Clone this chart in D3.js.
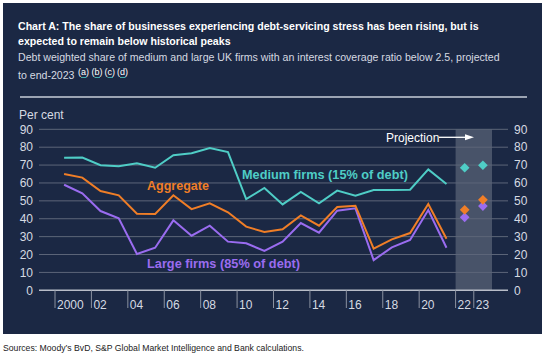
<!DOCTYPE html>
<html><head><meta charset="utf-8">
<script src="https://cdn.jsdelivr.net/npm/d3@7"></script>
<style>
html,body{margin:0;padding:0;background:#fff;}
svg{display:block;font-family:"Liberation Sans",Arial,sans-serif;}
</style></head>
<body>
<svg id="c" width="550" height="355"></svg>
<script>
const years = d3.range(2000, 2022);
const projYears = [2022, 2023];
const allYears = d3.range(2000, 2024);
const medium = [74.1,74.2,69.9,69.3,71,68.5,75.5,76.6,79.5,77.3,51,57.2,48,55,48.6,55.7,52.9,56,56,56.2,67.6,59.4];
const aggregate = [65,63,55.5,53.1,42.8,42.7,53.1,45.4,48.6,43.6,35.6,32.6,34.1,41.9,36.1,46.6,47.3,23.3,28.5,32,48.2,28.8];
const large = [59,54.2,44.3,40.2,20.3,23.8,39.1,30.5,36.1,27.2,26.3,22,27.2,37.6,32.2,44.5,45.8,16.9,24,28.1,44.9,23.8];
const mediumProj = [68.5,69.9];
const aggregateProj = [45,50.6];
const largeProj = [40.8,47.1];
const yTicks = [0,10,20,30,40,50,60,70,80,90];
const xTickYears = [2000,2002,2004,2006,2008,2010,2012,2014,2016,2018,2020,2022,2023];
const xTickLabels = ["2000","02","04","06","08","10","12","14","16","18","20","22","23"];
const footnotes = ["(a)","(b)","(c)","(d)"];

const svg = d3.select("#c");
const C = {bg:"#1b2844", teal:"#4fcdc6", orange:"#f07e27", purple:"#9a6cf0", text:"#d6dae2", grid:"#5d6679"};

// scale a text's font size so its width matches a target width
function fit(sel, target){
  const fs = parseFloat(sel.attr("font-size"));
  const w = sel.node().getComputedTextLength();
  if (w > 0) sel.attr("font-size", (fs*target/w).toFixed(2));
  return sel;
}

svg.append("rect").attr("x",3).attr("y",3).attr("width",539).attr("height",331).attr("fill",C.bg);

// titles
const t1 = svg.append("text").attr("x",18).attr("y",30).attr("font-weight","bold").attr("font-size",12).attr("fill","#fff")
  .text("Chart A: The share of businesses experiencing debt-servicing stress has been rising, but is");
fit(t1, 461);
svg.append("text").attr("x",18).attr("y",44.5).attr("font-weight","bold").attr("font-size",t1.attr("font-size")).attr("fill","#fff")
  .text("expected to remain below historical peaks");
const s1 = svg.append("text").attr("x",18).attr("y",61).attr("fill",C.text).attr("font-size",11)
  .text("Debt weighted share of medium and large UK firms with an interest coverage ratio below 2.5, projected");
fit(s1, 482);
svg.append("text").attr("x",18).attr("y",79).attr("fill",C.text).attr("font-size",s1.attr("font-size")).text("to end-2023");
// footnote markers
const fx = [78, 91.5, 104.5, 117];
svg.append("g").selectAll("text").data(footnotes).join("text")
  .attr("x",(d,i)=>fx[i]).attr("y",75).attr("font-size",9).attr("fill","#ffffff").text(d=>d);
svg.append("g").selectAll("line").data(footnotes).join("line")
  .attr("x1",(d,i)=>fx[i]+3).attr("x2",(d,i)=>fx[i]+8.5).attr("y1",77.5).attr("y2",77.5)
  .attr("stroke",C.teal).attr("stroke-width",0.8);

svg.append("line").attr("x1",20).attr("x2",527).attr("y1",97).attr("y2",97)
  .attr("stroke","#c9ced8").attr("stroke-width",1.3);

const x = d3.scaleBand().domain(allYears).range([55,492]);
const y = d3.scaleLinear().domain([0,90]).range([290.3,129.3]);
const xc = d => x(d) + x.bandwidth()/2;

// projection band
svg.append("rect").attr("x",x(2022)).attr("width",x(2023)+x.bandwidth()-x(2022))
  .attr("y",y(90)).attr("height",y(0)-y(90)).attr("fill","#ffffff").attr("fill-opacity",0.2);

// gridlines
svg.append("g").selectAll("line").data(yTicks.filter(d=>d>0)).join("line")
  .attr("x1",39).attr("x2",508).attr("y1",d=>y(d)).attr("y2",d=>y(d))
  .attr("stroke",C.grid).attr("stroke-width",1);
svg.append("line").attr("x1",39).attr("x2",508).attr("y1",y(0)).attr("y2",y(0))
  .attr("stroke","#b8bdc8").attr("stroke-width",1.6);

// y labels
const yl = svg.append("g").attr("fill",C.text).attr("font-size",12);
yl.selectAll("text.l").data(yTicks).join("text").attr("class","l")
  .attr("x",33).attr("y",d=>y(d)+4.3).attr("text-anchor","end").text(d=>d);
yl.selectAll("text.r").data(yTicks).join("text").attr("class","r")
  .attr("x",514).attr("y",d=>y(d)+4.3).text(d=>d);
yl.append("text").attr("x",19).attr("y",119).text("Per cent");

// x ticks
const xt = svg.append("g");
xt.selectAll("line").data(xTickYears).join("line")
  .attr("x1",d=>x(d)).attr("x2",d=>x(d)).attr("y1",y(0)).attr("y2",308)
  .attr("stroke","#8a91a0").attr("stroke-width",1);
xt.selectAll("text").data(xTickYears).join("text")
  .attr("x",d=>x(d)+2).attr("y",309).attr("fill",C.text).attr("font-size",12)
  .text((d,i)=>xTickLabels[i]);

// lines
const line = d3.line().x((d,i)=>xc(years[i])).y(d=>y(d));
[[large,C.purple],[aggregate,C.orange],[medium,C.teal]].forEach(([data,col])=>{
  svg.append("path").datum(data).attr("d",line).attr("fill","none")
    .attr("stroke",col).attr("stroke-width",2).attr("stroke-linejoin","miter");
});

// diamonds
const diamond = d3.symbol().type(d3.symbolDiamond2).size(60);
[[mediumProj,C.teal],[largeProj,C.purple],[aggregateProj,C.orange]].forEach(([data,col])=>{
  svg.append("g").selectAll("path").data(data).join("path")
    .attr("transform",(d,i)=>`translate(${xc(projYears[i])},${y(d)})`)
    .attr("d",diamond).attr("fill",col);
});

// series labels
const lab = svg.append("g").attr("font-weight","bold");
fit(lab.append("text").attr("x",242).attr("y",178.5).attr("fill",C.teal).attr("font-size",13).text("Medium firms (15% of debt)"),166);
fit(lab.append("text").attr("x",147).attr("y",189.5).attr("fill",C.orange).attr("font-size",13).text("Aggregate"),62);
fit(lab.append("text").attr("x",147).attr("y",267.5).attr("fill",C.purple).attr("font-size",13).text("Large firms (85% of debt)"),153);

// projection label + arrow
svg.append("text").attr("x",386).attr("y",141.5).attr("fill","#ffffff").attr("font-size",12).text("Projection");
svg.append("line").attr("x1",439).attr("x2",466).attr("y1",137.3).attr("y2",137.3)
  .attr("stroke","#ffffff").attr("stroke-width",1.3);
svg.append("path").attr("d",`M465,134.3 L474,137.3 L465,140.3 Z`).attr("fill","#ffffff");

// source
fit(svg.append("text").attr("x",3).attr("y",350.5).attr("font-size",9).attr("fill","#222")
  .text("Sources: Moody’s BvD, S&P Global Market Intelligence and Bank calculations."),301);
</script>
</body></html>
